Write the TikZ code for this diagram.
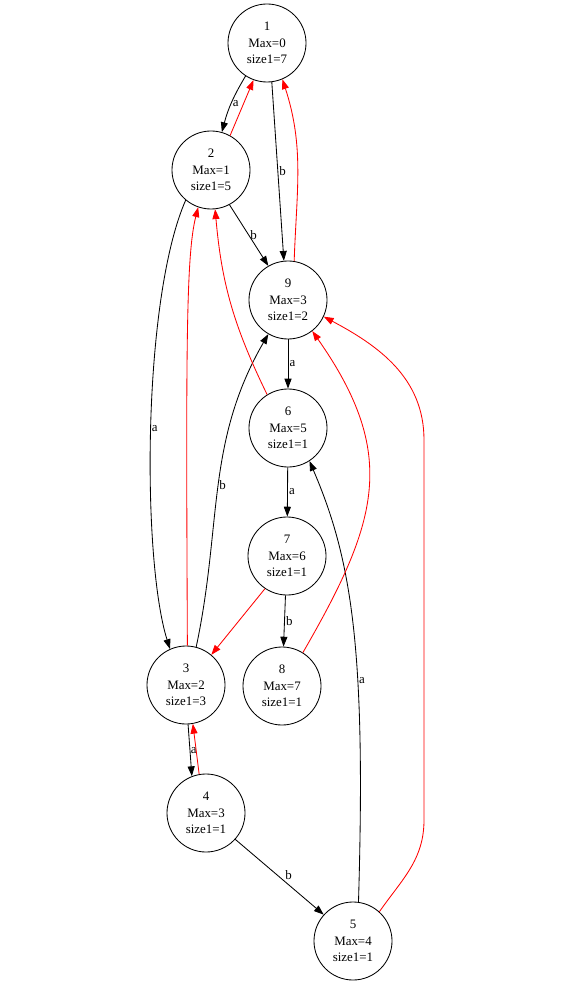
\documentclass[tikz,border=0pt]{standalone}
\usepackage{fontspec}
\setmainfont{Liberation Serif}
\usetikzlibrary{arrows.meta}

\begin{document}
\begin{tikzpicture}[
  x=0.025cm, y=0.025cm,
  state/.style={circle, draw=black, line width=0.6pt, minimum size=1.95cm, inner sep=0pt, align=center, font=\fontsize{9.2}{11.8}\selectfont},
  fwd/.style={-{Triangle[length=7pt,width=5pt]}, line width=0.6pt, black},
  back/.style={-{Triangle[length=7pt,width=5pt]}, line width=0.6pt, red},
  lbl/.style={font=\fontsize{9.2}{11}\selectfont, inner sep=0.8pt}
]
\useasboundingbox (0,0) rectangle (586,-997);

% States
\node[state] (s1) at (267,-43) {1\\Max=0\\size1=7};
\node[state] (s2) at (211,-170) {2\\Max=1\\size1=5};
\node[state] (s9) at (288,-300) {9\\Max=3\\size1=2};
\node[state] (s6) at (288,-428) {6\\Max=5\\size1=1};
\node[state] (s7) at (287,-556) {7\\Max=6\\size1=1};
\node[state] (s3) at (186,-685) {3\\Max=2\\size1=3};
\node[state] (s8) at (282,-686) {8\\Max=7\\size1=1};
\node[state] (s4) at (206,-813) {4\\Max=3\\size1=1};
\node[state] (s5) at (353,-941) {5\\Max=4\\size1=1};

% Transitions
\draw[fwd] (s1.237) to[bend right=8] node[lbl, anchor=west] {a} (s2.74);
\draw[fwd] (s1.277) -- node[lbl, anchor=west] {b} (s9.96);
\draw[fwd] (s2.298) -- node[lbl, anchor=west] {b} (s9.120);
\draw[fwd] (s2.230) .. controls (142,-300) and (142,-560) .. node[lbl, anchor=west, inner sep=0.3pt] {a} (s3.114);
\draw[fwd] (s3.75) to[out=78,in=240] node[lbl, anchor=west, inner sep=0.3pt] {b} (s9.240);
\draw[fwd] (s9) -- node[lbl, anchor=west] {a} (s6);
\draw[fwd] (s6) -- node[lbl, anchor=west] {a} (s7);
\draw[fwd] (s7) -- node[lbl, anchor=west] {b} (s8);
\draw[fwd] (s3.273) -- node[lbl, anchor=west, inner sep=0.3pt] {a} (s4.111);
\draw[fwd] (s4.318) -- node[lbl, pos=0.55, anchor=south west] {b} (s5.138);
\draw[fwd] (s5.82) .. controls (366,-650) and (352,-560) .. node[lbl, pos=0.37, anchor=west] {a} (s6.303);

% Back links
\draw[back] (s2.61) -- (s1.250);
\draw[back] (s9.81) to[out=88,in=-72] (s1.293);
\draw[back] (s6.122) to[out=116,in=-85] (s2.276);
\draw[back] (s3.88) .. controls (186,-350) and (186,-255) .. (s2.251);
\draw[back] (s7.236) -- (s3.50);
\draw[back] (s8.58) to[out=60,in=-55,looseness=1.2] (s9.308);
\draw[back] (s4.100) -- (s3.280);
\draw[back] (s5.48) to[out=55,in=-90] (424,-820) -- (424,-440) to[out=90,in=-28] (s9.335);

\end{tikzpicture}
\end{document}
